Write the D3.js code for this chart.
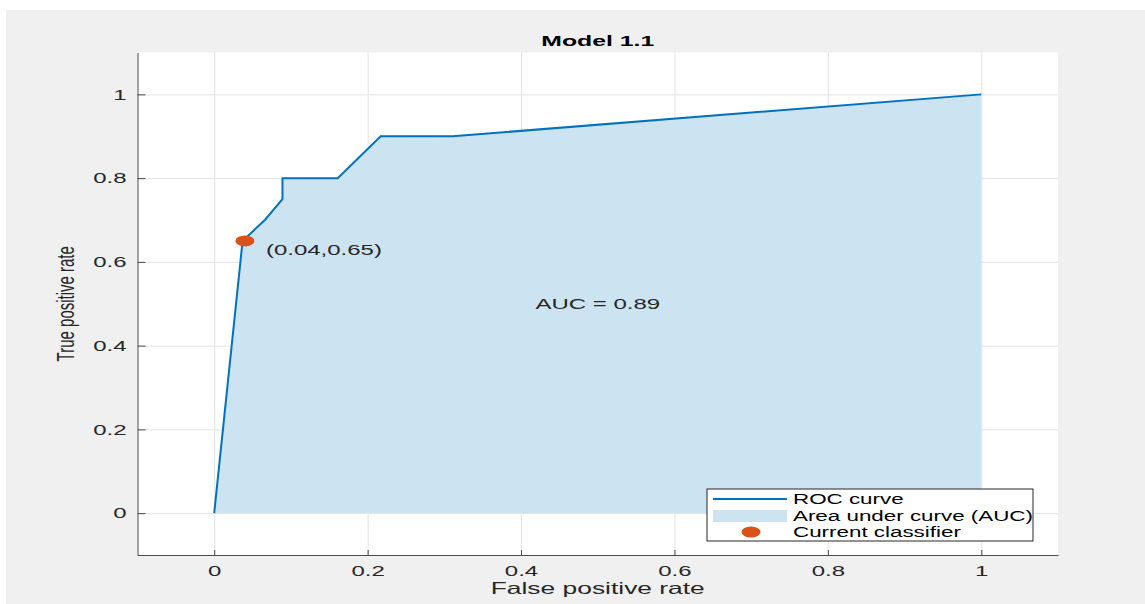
<!DOCTYPE html>
<html>
<head>
<meta charset="utf-8">
<script src="https://cdn.jsdelivr.net/npm/d3@7"></script>
<style>
  body { margin: 0; background: #fff; }
  svg { display: block; font-family: "Liberation Sans", Arial, sans-serif; }
</style>
</head>
<body>
<div id="chart"></div>
<script>
// Data
const fpr = [0, 0.037, 0.066, 0.089, 0.089, 0.161, 0.217, 0.311, 1];
const tpr = [0, 0.65, 0.70, 0.75, 0.80, 0.80, 0.90, 0.90, 1];
const current = [0.04, 0.65];
const ticks = [0, 0.2, 0.4, 0.6, 0.8, 1];
const aucValue = 0.89;
const legendLabels = ["ROC curve", "Area under curve (AUC)", "Current classifier"];

// Dimensions
const W = 1145, H = 604;
const SX = 1.6; // picture is stretched sideways
const pLeft = 137.5, pRight = 1058, pTop = 52.5, pBottom = 555;

const svg = d3.select("#chart").append("svg")
  .attr("width", W).attr("height", H);

svg.append("rect").attr("x", 6).attr("y", 10)
  .attr("width", W - 6).attr("height", H - 10).attr("fill", "#f0f0f0");
svg.append("rect").attr("x", pLeft).attr("y", pTop)
  .attr("width", pRight - pLeft).attr("height", pBottom - pTop).attr("fill", "#fff");

const x = d3.scaleLinear().domain([-0.1, 1.1]).range([pLeft, pRight]);
const y = d3.scaleLinear().domain([-0.1, 1.1]).range([pBottom, pTop]);

// stretched text helper
function txt(g, px, py, s, size, anchor) {
  return g.append("text")
    .attr("transform", `translate(${px},${py}) scale(${SX},1)`)
    .attr("text-anchor", anchor)
    .attr("font-size", size)
    .attr("fill", "#262626")
    .text(s);
}

// Grid
svg.append("g").attr("transform", `translate(0,${pBottom})`)
  .call(d3.axisBottom(x).tickValues(ticks).tickSize(-(pBottom - pTop)).tickFormat(""))
  .call(g => g.select(".domain").remove())
  .selectAll("line").attr("stroke", "#e3e3e3");
svg.append("g").attr("transform", `translate(${pLeft},0)`)
  .call(d3.axisLeft(y).tickValues(ticks).tickSize(-(pRight - pLeft)).tickFormat(""))
  .call(g => g.select(".domain").remove())
  .selectAll("line").attr("stroke", "#e3e3e3");

// Area + curve
const pts = fpr.map((f, i) => [f, tpr[i]]);
svg.append("path").datum(pts)
  .attr("fill", "rgb(204,227,242)")
  .attr("d", d3.area().x(d => x(d[0])).y0(y(0)).y1(d => y(d[1])));
svg.append("path").datum(pts)
  .attr("fill", "none").attr("stroke", "#0072BD").attr("stroke-width", 2)
  .attr("d", d3.line().x(d => x(d[0])).y(d => y(d[1])));

// Axes
const xAx = svg.append("g").attr("transform", `translate(0,${pBottom})`)
  .call(d3.axisBottom(x).tickValues(ticks).tickSizeInner(-5).tickSizeOuter(0).tickFormat(d3.format("")));
xAx.selectAll("text").attr("y", null).attr("dy", null)
  .attr("transform", `translate(0,21) scale(${SX},1)`).attr("font-size", 15)
  .attr("fill", "#262626").attr("font-family", "Liberation Sans, Arial, sans-serif");
const yAx = svg.append("g").attr("transform", `translate(${pLeft},0)`)
  .call(d3.axisLeft(y).tickValues(ticks).tickSizeInner(-8).tickSizeOuter(0).tickFormat(d3.format("")));
yAx.selectAll("text").attr("x", null)
  .attr("transform", `translate(-11,0) scale(${SX},1)`).attr("font-size", 15)
  .attr("fill", "#262626").attr("font-family", "Liberation Sans, Arial, sans-serif");
[xAx, yAx].forEach(g => {
  g.select(".domain").attr("stroke", "#4a4a4a");
  g.selectAll(".tick line").attr("stroke", "#4a4a4a");
});

// Current classifier
svg.append("ellipse")
  .attr("cx", x(current[0])).attr("cy", y(current[1]))
  .attr("rx", 9.5).attr("ry", 5.5).attr("fill", "#D95319");
txt(svg, x(current[0]) + 21, y(current[1]) + 14, `(${current[0]},${current[1]})`, 15, "start");

// AUC text
txt(svg, x(0.5), y(0.5) + 5, `AUC = ${aucValue}`, 15, "middle");

// Title and labels
txt(svg, (pLeft + pRight) / 2, 46, "Model 1.1", 15.5, "middle").attr("font-weight", "bold").attr("fill", "#000");
txt(svg, (pLeft + pRight) / 2, 594, "False positive rate", 16.5, "middle");
svg.append("text")
  .attr("transform", `translate(74,${(pTop + pBottom) / 2}) scale(${SX},1) rotate(-90)`)
  .attr("text-anchor", "middle").attr("font-size", 15).attr("fill", "#262626")
  .text("True positive rate");

// Legend
const lg = svg.append("g").attr("transform", "translate(707,489)");
lg.append("rect").attr("width", 326).attr("height", 52)
  .attr("fill", "#fff").attr("stroke", "#262626").attr("stroke-width", 1);
const rowY = [10, 27, 43];
lg.append("line").attr("x1", 6).attr("x2", 80).attr("y1", rowY[0]).attr("y2", rowY[0])
  .attr("stroke", "#0072BD").attr("stroke-width", 2);
lg.append("rect").attr("x", 6).attr("y", rowY[1] - 6).attr("width", 74).attr("height", 12)
  .attr("fill", "rgb(204,227,242)");
lg.append("ellipse").attr("cx", 44).attr("cy", rowY[2]).attr("rx", 9.5).attr("ry", 5.5)
  .attr("fill", "#D95319");
legendLabels.forEach((s, i) => txt(lg, 86, rowY[i] + 5, s, 14, "start").attr("fill", "#000"));
</script>
</body>
</html>
